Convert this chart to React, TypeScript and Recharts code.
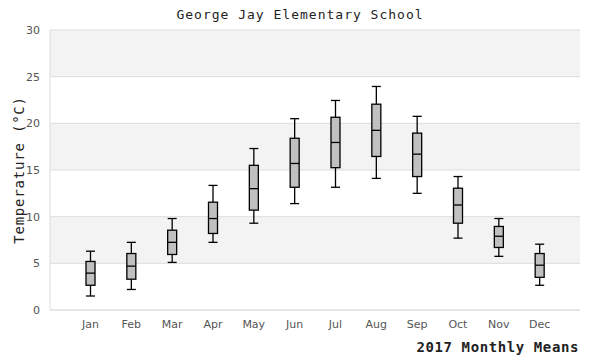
import React from "react";
import { ComposedChart, Bar, XAxis, YAxis, CartesianGrid } from "recharts";

const months = ["Jan", "Feb", "Mar", "Apr", "May", "Jun", "Jul", "Aug", "Sep", "Oct", "Nov", "Dec"];
const mins = [1.5, 2.2, 5.1, 7.25, 9.3, 11.4, 13.15, 14.1, 12.5, 7.7, 5.75, 2.65];
const q1s = [2.65, 3.3, 5.95, 8.2, 10.7, 13.15, 15.25, 16.45, 14.3, 9.3, 6.7, 3.5];
const medians = [3.95, 4.7, 7.25, 9.8, 13.0, 15.7, 17.95, 19.25, 16.7, 11.25, 7.9, 4.8];
const q3s = [5.2, 6.05, 8.55, 11.55, 15.5, 18.4, 20.65, 22.05, 18.95, 13.05, 8.95, 6.05];
const maxs = [6.3, 7.25, 9.8, 13.35, 17.3, 20.5, 22.45, 23.95, 20.75, 14.3, 9.8, 7.05];

const yTicks = [0, 5, 10, 15, 20, 25, 30];

const data = months.map((month, i) => ({
  month,
  min: mins[i],
  q1: q1s[i],
  median: medians[i],
  q3: q3s[i],
  max: maxs[i],
}));

const mono = "'DejaVu Sans Mono', monospace";
const sans = "'DejaVu Sans', sans-serif";

function BoxShape(props: any) {
  const { x, y, width, height, payload } = props;
  const top = Math.min(y, y + height);
  const h = Math.abs(height);
  const bottom = top + h;
  const ppu = h / (payload.q3 - payload.q1);
  const yMax = top - (payload.max - payload.q3) * ppu;
  const yMin = bottom + (payload.q1 - payload.min) * ppu;
  const yMed = top + (payload.q3 - payload.median) * ppu;
  const cx = x + width / 2;
  const stroke = "#000";
  return (
    <g>
      <line x1={cx} x2={cx} y1={yMax} y2={top} stroke={stroke} strokeWidth={1.3} />
      <line x1={cx} x2={cx} y1={bottom} y2={yMin} stroke={stroke} strokeWidth={1.3} />
      <line x1={x} x2={x + width} y1={yMax} y2={yMax} stroke={stroke} strokeWidth={1.3} />
      <line x1={x} x2={x + width} y1={yMin} y2={yMin} stroke={stroke} strokeWidth={1.3} />
      <rect x={x} y={top} width={width} height={h} fill="#c0c0c0" stroke={stroke} strokeWidth={1.3} />
      <line x1={x} x2={x + width} y1={yMed} y2={yMed} stroke={stroke} strokeWidth={1.3} />
    </g>
  );
}

export default function App() {
  return (
    <div style={{ position: "relative", width: 600, height: 360, background: "#fff" }}>
      <style>{"body{margin:0}"}</style>
      <ComposedChart
        width={600}
        height={360}
        data={data}
        margin={{ top: 30, right: 20, bottom: 20, left: 0 }}
      >
        <CartesianGrid
          yAxisId="left"
          vertical={false}
          stroke="#dddddd"
          horizontalFill={["#f3f3f3", "#ffffff"]}
          fillOpacity={1}
        />
        <XAxis
          dataKey="month"
          padding={{ left: 20, right: 20 }}
          tickLine={false}
          axisLine={{ stroke: "#dddddd" }}
          tickMargin={4}
          height={30}
          tick={{ fill: "#555", fontSize: 11, fontFamily: sans }}
        />
        <YAxis
          yAxisId="left"
          domain={[0, 30]}
          ticks={yTicks}
          width={50}
          tickLine={false}
          axisLine={{ stroke: "#dddddd" }}
          tickMargin={4}
          tick={{ fill: "#555", fontSize: 11, fontFamily: sans }}
        />
        <YAxis
          yAxisId="right"
          orientation="right"
          domain={[0, 30]}
          width={0}
          tick={false}
          tickLine={false}
          axisLine={{ stroke: "#dddddd" }}
        />
        <Bar
          yAxisId="left"
          dataKey={(d: any) => [d.q1, d.q3]}
          barSize={9}
          shape={<BoxShape />}
          isAnimationActive={false}
        />
      </ComposedChart>
      <svg
        width={600}
        height={360}
        style={{ position: "absolute", left: 0, top: 0, pointerEvents: "none" }}
      >
        <text x={300} y={19} textAnchor="middle" fontFamily={mono} fontSize={13} letterSpacing={1} fill="#222">
          George Jay Elementary School
        </text>
        <text x={579} y={352} textAnchor="end" fontFamily={mono} fontSize={14} fontWeight="bold" letterSpacing={0.6} fill="#222">
          2017 Monthly Means
        </text>
        <text
          transform="translate(24,170) rotate(-90)"
          textAnchor="middle"
          fontFamily={mono}
          fontSize={14}
          letterSpacing={0.8}
          fill="#222"
        >
          Temperature (°C)
        </text>
      </svg>
    </div>
  );
}
